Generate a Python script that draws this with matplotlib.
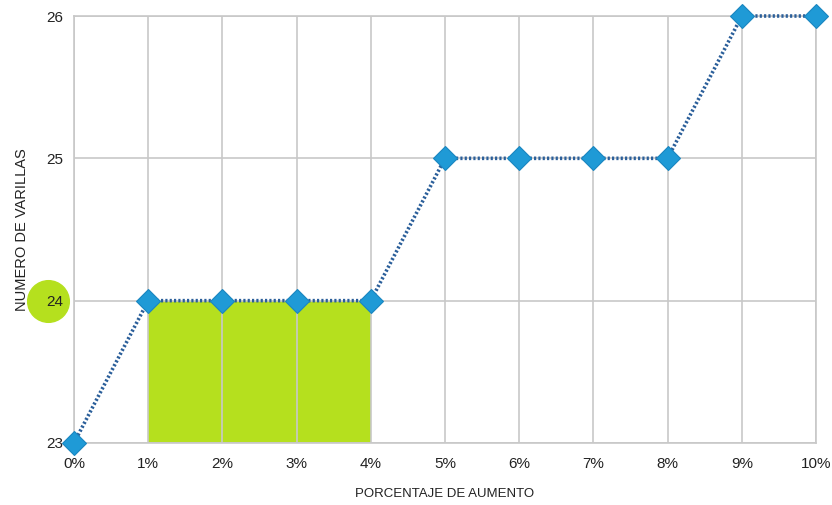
import matplotlib
matplotlib.use("Agg")
import matplotlib.pyplot as plt

plt.rcParams['font.family'] = ['Liberation Sans', 'DejaVu Sans']

# data
porcentaje = [0, 1, 2, 3, 4, 5, 6, 7, 8, 9, 10]
varillas = [23, 24, 24, 24, 24, 25, 25, 25, 25, 26, 26]
x_labels = [f"{p}%" for p in porcentaje]
resaltado_x = [1, 2, 3, 4]
resaltado_y = [24, 24, 24, 24]
valor_resaltado = 24

fig = plt.figure(figsize=(8.32, 5.05), dpi=100)
ax = fig.add_axes([0.0889, 0.1228, 0.8919, 0.8455])

verde = '#b5e01e'
ax.fill_between(resaltado_x, 23, resaltado_y, color=verde, lw=0, zorder=0.3)

ax.plot(porcentaje, varillas, linestyle=(0, (0.6, 0.6)), color='#2b5f9a', lw=2.6,
        marker='D', markersize=12.5, markerfacecolor='#1f9ad6',
        markeredgecolor='#1a86c0', markeredgewidth=0.8, zorder=3, clip_on=False)

# circle behind the highlighted tick label (axis sits at zorder 0.5)
ax.plot([-0.35], [valor_resaltado], 'o', color=verde, markersize=30,
        clip_on=False, zorder=0.1)

ax.set_xlim(0, 10)
ax.set_ylim(23, 26)
ax.set_xticks(porcentaje)
ax.set_xticklabels(x_labels)
ax.set_yticks([23, 24, 25, 26])

ax.set_axisbelow(True)
ax.grid(True, color='#c8c8c8', lw=1.2)
for s in ax.spines.values():
    s.set_color('#c8c8c8')
    s.set_linewidth(1.2)
ax.tick_params(length=0, labelsize=11, colors='#222222')
ax.tick_params(axis='x', pad=10)
ax.tick_params(axis='y', pad=8)

ax.set_xlabel('PORCENTAJE DE AUMENTO', fontsize=9.5, labelpad=12, color='#222222')
ax.set_ylabel('NUMERO DE VARILLAS', fontsize=10.5, labelpad=12, color='#222222')

fig.savefig('out.png', dpi=100)
